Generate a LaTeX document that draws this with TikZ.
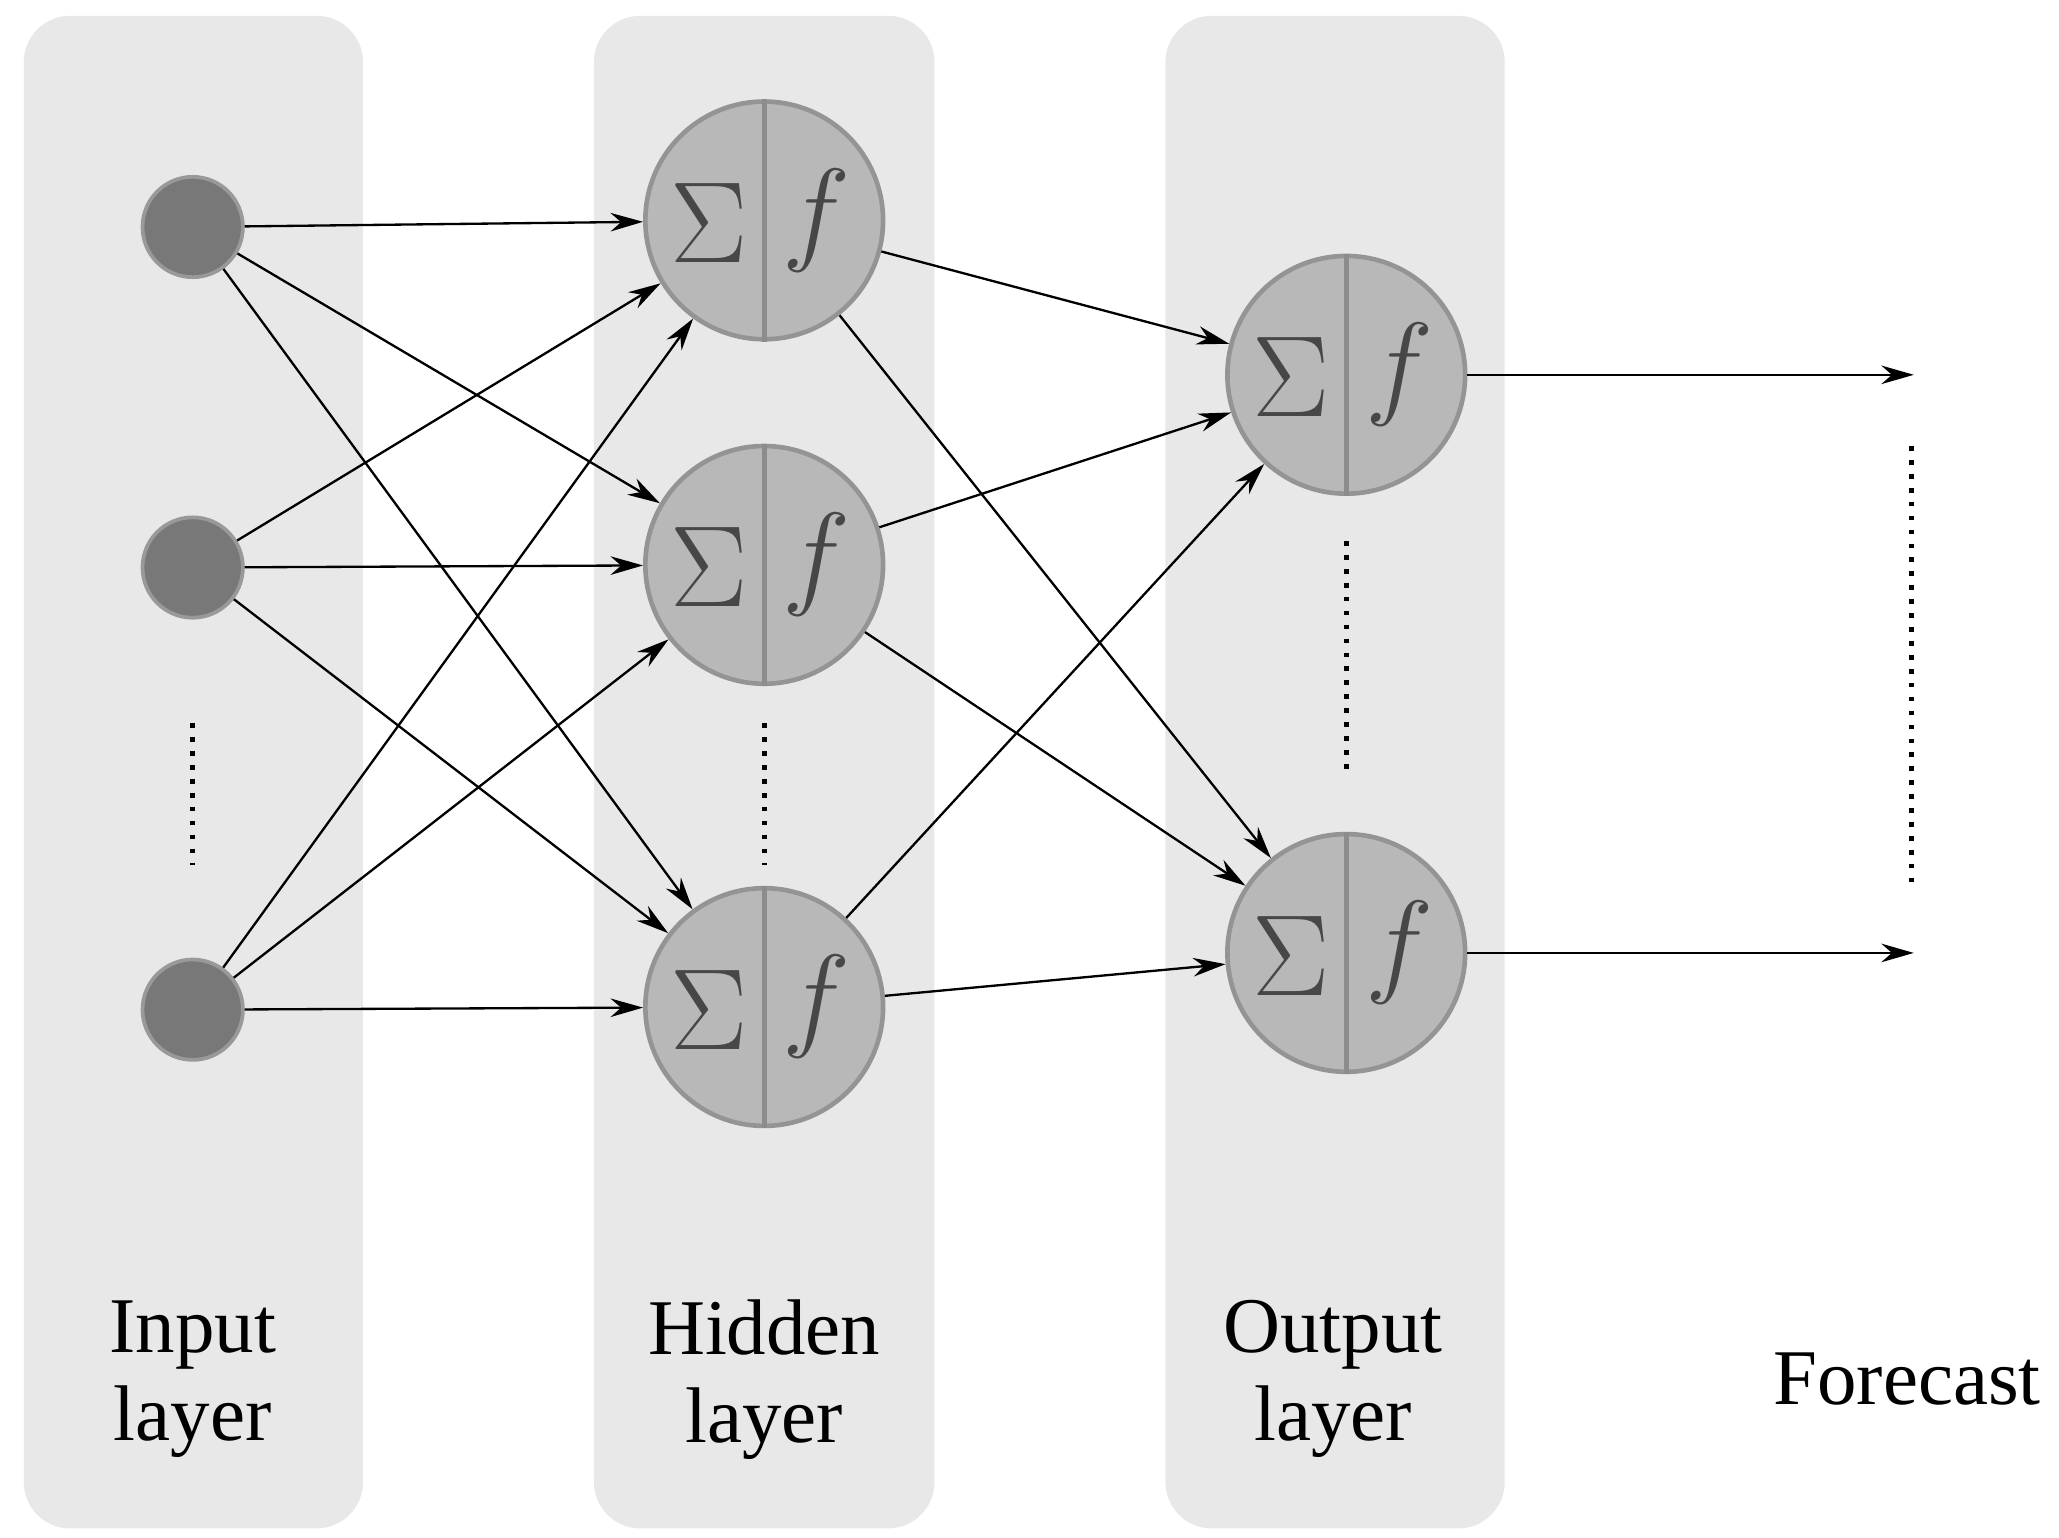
\documentclass[tikz,border=0pt]{standalone}
\usepackage{fontspec}
\setmainfont{Liberation Serif}
\usetikzlibrary{arrows.meta}
\begin{document}
\begin{tikzpicture}[x=0.01cm,y=-0.01cm,
 panel/.style={fill=black!9,draw=none,rounded corners=0.35cm},
 inp/.style={circle,fill=black!53,draw=black!40,line width=0.8pt,minimum size=0.76cm,inner sep=0},
 neu/.style={circle,fill=black!28,draw=black!42,line width=1pt,minimum size=1.8cm,inner sep=0},
 con/.style={-{Stealth[length=7pt,width=4pt]},line width=0.5pt},
 dots/.style={dotted,line width=1pt},
 lab/.style={font=\fontsize{17}{19}\selectfont,align=center}]
\useasboundingbox (0,0) rectangle (1560,1165);
\fill[panel] (18,12) rectangle (275,1158);
\fill[panel] (450,12) rectangle (708,1158);
\fill[panel] (883,12) rectangle (1140,1158);
\node[inp] (i1) at (146,172) {};
\node[inp] (i2) at (146,430) {};
\node[inp] (i3) at (146,765) {};
\foreach \n/\x/\y in {h1/579/167,h2/579/428,h3/579/763,o1/1020/284,o2/1020/722}{
 \node[neu] (\n) at (\x,\y) {};
 \draw[black!45,line width=1pt] (\n.north) -- (\n.south);
 \node[text=black!72,font=\fontsize{40}{40}\selectfont\sffamily] at (\x-42,\y+2) {$\Sigma$};
 \node[text=black!72,font=\fontsize{40}{40}\selectfont] at (\x+40,\y) {$f$};
}
\foreach \a in {i1,i2,i3}\foreach \b in {h1,h2,h3}{\draw[con] (\a) -- (\b);}
\foreach \a in {h1,h2,h3}\foreach \b in {o1,o2}{\draw[con] (\a) -- (\b);}
\coordinate (f1) at (1450,284);
\coordinate (f2) at (1450,722);
\draw[con] (o1) -- (f1);
\draw[con] (o2) -- (f2);
\coordinate (d1a) at (146,548); \coordinate (d1b) at (146,655);
\coordinate (d2a) at (579,548); \coordinate (d2b) at (579,655);
\coordinate (d3a) at (1020,410); \coordinate (d3b) at (1020,585);
\coordinate (d4a) at (1448,338); \coordinate (d4b) at (1448,670);
\draw[dots] (d1a) -- (d1b);
\draw[dots] (d2a) -- (d2b);
\draw[dots] (d3a) -- (d3b);
\draw[dots] (d4a) -- (d4b);
\node[lab] (li) at (146,1045) {Input\\layer};
\node[lab] (lh) at (579,1045) {Hidden\\layer};
\node[lab] (lo) at (1010,1045) {Output\\layer};
\node[lab] (lf) at (1445,1045) {Forecast};
\end{tikzpicture}
\end{document}
